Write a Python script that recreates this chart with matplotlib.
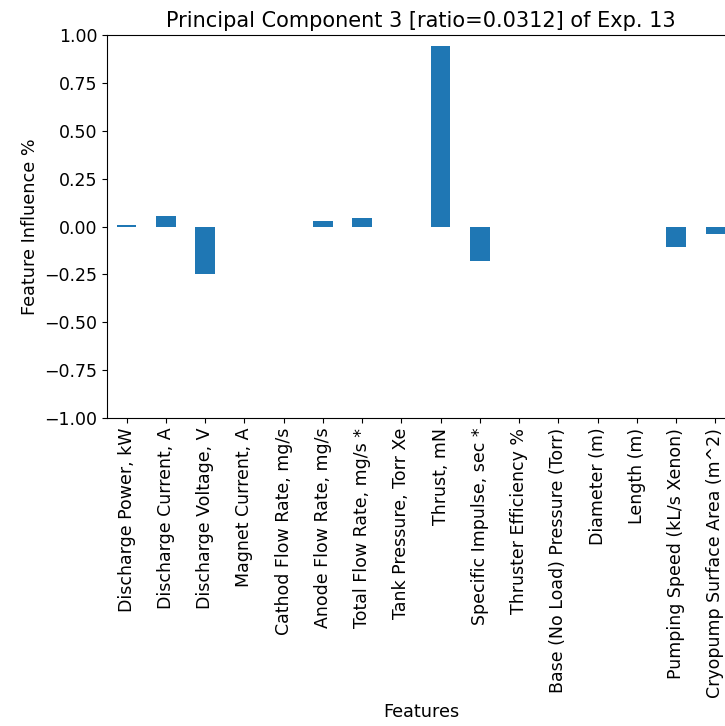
import matplotlib
matplotlib.use('Agg')
import matplotlib.pyplot as plt

features = ['Discharge Power, kW', 'Discharge Current, A', 'Discharge Voltage, V',
            'Magnet Current, A', 'Cathod Flow Rate, mg/s', 'Anode Flow Rate, mg/s',
            'Total Flow Rate, mg/s *', 'Tank Pressure, Torr Xe', 'Thrust, mN',
            'Specific Impulse, sec *', 'Thruster Efficiency %',
            'Base (No Load) Pressure (Torr)', 'Diameter (m)', 'Length (m)',
            'Pumping Speed (kL/s Xenon)', 'Cryopump Surface Area (m^2)']
influence = [0.01, 0.056, -0.25, 0.0, 0.0, 0.03, 0.045, 0.0, 0.945,
             -0.18, 0.0, 0.0, 0.0, 0.0, -0.105, -0.04]
yticks = [-1, -0.75, -0.5, -0.25, 0, 0.25, 0.5, 0.75, 1]

fig = plt.figure(figsize=(7.25, 7.26), dpi=100)
# axes runs slightly past the right edge, like the cropped original
ax = fig.add_axes([107 / 725, 1 - 418 / 726, 628 / 725, 383 / 726])

x = range(len(features))
ax.bar(x, influence, width=0.5, color='#1f77b4')
ax.set_xlim(-0.5, len(features) - 0.5)
ax.set_ylim(-1, 1)
ax.set_yticks(yticks)
ax.set_yticklabels([('%.2f' % v).replace('-', '\u2212') for v in yticks])
ax.set_xticks(list(x))
ax.set_xticklabels(features, rotation=90)
ax.tick_params(labelsize=12.5)

ax.set_xlabel('Features', fontsize=12.7)
ax.set_ylabel('Feature Influence %', fontsize=12.7)
ax.set_title('Principal Component 3 [ratio=0.0312] of Exp. 13', fontsize=15)

fig.savefig('out.png', dpi=100)
